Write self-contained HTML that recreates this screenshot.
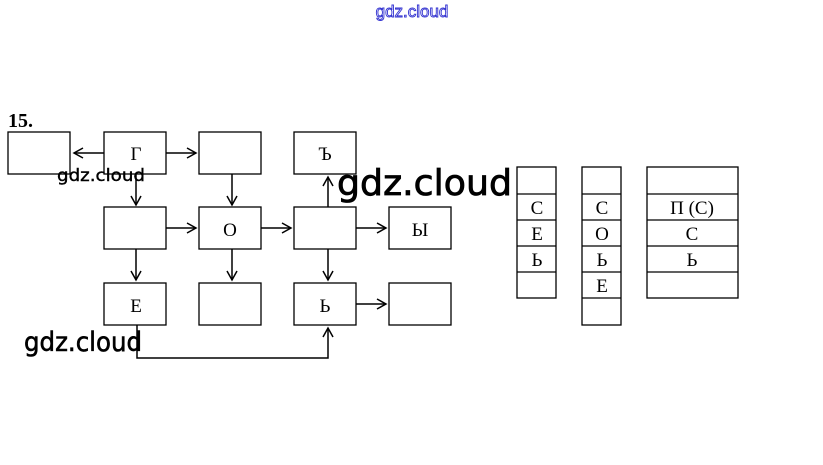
<!DOCTYPE html>
<html><head><meta charset="utf-8"><style>
body{margin:0;background:#fff;width:823px;height:465px;overflow:hidden}
svg{display:block}
</style></head><body>
<svg width="823" height="465" xmlns="http://www.w3.org/2000/svg">
<defs><marker id="a" markerWidth="12" markerHeight="12" refX="10" refY="6" orient="auto" markerUnits="userSpaceOnUse"><path d="M1,1 L10,6 L1,11" fill="none" stroke="#000" stroke-width="1.5"/></marker></defs>
<text x="412" y="17" font-family="Liberation Sans, sans-serif" font-size="17" fill="#fff" stroke="#3030d0" stroke-width="0.9" text-anchor="middle">gdz.cloud</text>
<text x="8" y="127" font-family="Liberation Serif, serif" font-weight="bold" font-size="20">15.</text>
<g fill="none" stroke="#000" stroke-width="1.3">
<rect x="8" y="132" width="62" height="42"/>
<rect x="104" y="132" width="62" height="42"/>
<rect x="199" y="132" width="62" height="42"/>
<rect x="294" y="132" width="62" height="42"/>
<rect x="104" y="207" width="62" height="42"/>
<rect x="199" y="207" width="62" height="42"/>
<rect x="294" y="207" width="62" height="42"/>
<rect x="389" y="207" width="62" height="42"/>
<rect x="104" y="283" width="62" height="42"/>
<rect x="199" y="283" width="62" height="42"/>
<rect x="294" y="283" width="62" height="42"/>
<rect x="389" y="283" width="62" height="42"/>
<rect x="517" y="167" width="39" height="131"/>
<line x1="517" y1="194" x2="556" y2="194"/><line x1="517" y1="220" x2="556" y2="220"/><line x1="517" y1="246" x2="556" y2="246"/><line x1="517" y1="272" x2="556" y2="272"/>
<rect x="582" y="167" width="39" height="158"/>
<line x1="582" y1="194" x2="621" y2="194"/><line x1="582" y1="220" x2="621" y2="220"/><line x1="582" y1="246" x2="621" y2="246"/><line x1="582" y1="272" x2="621" y2="272"/><line x1="582" y1="298" x2="621" y2="298"/>
<rect x="647" y="167" width="91" height="131"/>
<line x1="647" y1="194" x2="738" y2="194"/><line x1="647" y1="220" x2="738" y2="220"/><line x1="647" y1="246" x2="738" y2="246"/><line x1="647" y1="272" x2="738" y2="272"/>
</g>
<g stroke="#000" stroke-width="1.5" fill="none" marker-end="url(#a)">
<line x1="104" y1="153" x2="74" y2="153"/>
<line x1="166" y1="153" x2="196" y2="153"/>
<line x1="136" y1="174" x2="136" y2="205"/>
<line x1="232" y1="174" x2="232" y2="205"/>
<line x1="328" y1="207" x2="328" y2="177"/>
<line x1="166" y1="228" x2="196" y2="228"/>
<line x1="261" y1="228" x2="291" y2="228"/>
<line x1="356" y1="228" x2="386" y2="228"/>
<line x1="136" y1="249" x2="136" y2="280"/>
<line x1="232" y1="249" x2="232" y2="280"/>
<line x1="328" y1="249" x2="328" y2="280"/>
<line x1="356" y1="304" x2="386" y2="304"/>
<polyline points="137,325 137,358 328,358 328,328"/>
</g>
<g font-family="Liberation Serif, serif" font-size="19" text-anchor="middle">
<text x="136" y="160">Г</text><text x="325" y="160">Ъ</text>
<text x="230" y="236">О</text><text x="420" y="236">Ы</text>
<text x="136" y="312">Е</text><text x="325" y="312">Ь</text>
<text x="537" y="214">С</text><text x="537" y="240">Е</text><text x="537" y="266">Ь</text>
<text x="602" y="214">С</text><text x="602" y="240">О</text><text x="602" y="266">Ь</text><text x="602" y="292">Е</text>
<text x="692" y="214">П (С)</text><text x="692" y="240">С</text><text x="692" y="266">Ь</text>
</g>
<g font-family="DejaVu Sans, sans-serif" fill="#000" stroke="#000">
<text x="57" y="181" font-size="17" stroke-width="0.4" textLength="88" lengthAdjust="spacingAndGlyphs">gdz.cloud</text>
<text x="337" y="195" font-size="36" stroke-width="0.8" textLength="175" lengthAdjust="spacingAndGlyphs">gdz.cloud</text>
<text x="24" y="351" font-size="27" stroke-width="0.6" textLength="118" lengthAdjust="spacingAndGlyphs">gdz.cloud</text>
</g>
</svg>
</body></html>
